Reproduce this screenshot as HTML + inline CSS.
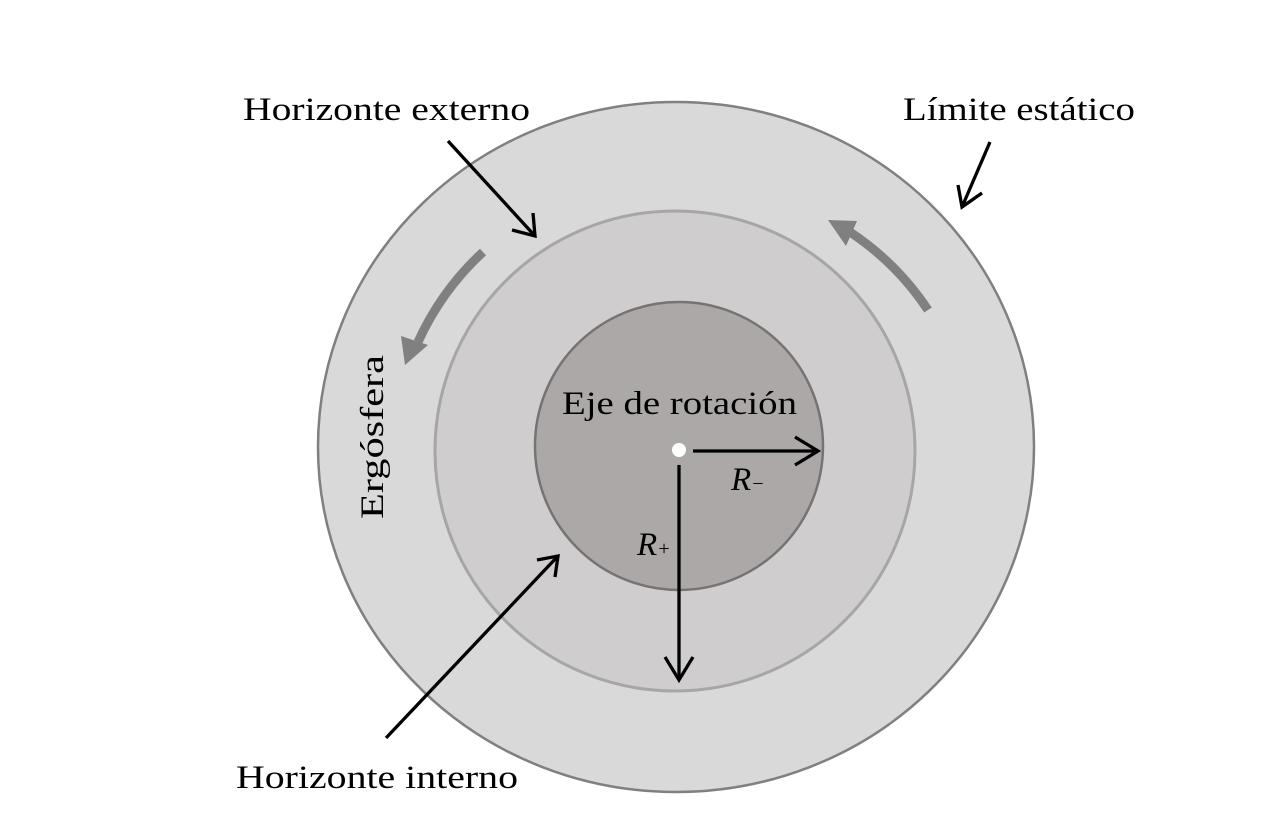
<!DOCTYPE html>
<html><head><meta charset="utf-8"><style>html,body{margin:0;padding:0;background:#fff}</style></head>
<body>
<svg width="1287" height="835" viewBox="0 0 1287 835" xmlns="http://www.w3.org/2000/svg" font-family="'Liberation Serif', serif">
<ellipse cx="676" cy="447" rx="358" ry="345" fill="#d9d9d9" stroke="#808080" stroke-width="2.5"/>
<circle cx="675" cy="451" r="240" fill="#cfcdce" stroke="#a6a6a6" stroke-width="3"/>
<circle cx="679" cy="446" r="144" fill="#aca8a8" stroke="#777373" stroke-width="2.5"/>
<circle cx="679" cy="450" r="7" fill="#fff"/>
<g stroke="#808080" stroke-width="9" fill="none">
<path d="M483,252 A280,280 0 0,0 418,342"/>
<path d="M928,310 A280,280 0 0,0 850,232"/>
</g>
<polygon points="405,365 401,336 428,345" fill="#808080"/>
<polygon points="828,220 857,221 846,246" fill="#808080"/>
<g stroke="#000" stroke-width="3.3" fill="none">
<line x1="448" y1="141" x2="535" y2="236"/><polyline points="512,230 535,236 533,213"/>
<line x1="990" y1="142" x2="962" y2="207"/><polyline points="958,185 962,207 982,193"/>
<line x1="386" y1="738" x2="558" y2="556"/><polyline points="537,560 558,556 555,577"/>
<line x1="693" y1="451" x2="818" y2="451"/><polyline points="795,437 818,451 795,465"/>
<line x1="679" y1="465" x2="679" y2="680"/><polyline points="665,657 679,680 693,657"/>
</g>
<g font-size="33" fill="#000">
<text x="243" y="120" textLength="287" lengthAdjust="spacingAndGlyphs">Horizonte externo</text>
<text x="903" y="120" textLength="232" lengthAdjust="spacingAndGlyphs">Límite estático</text>
<text x="236" y="788" textLength="282" lengthAdjust="spacingAndGlyphs">Horizonte interno</text>
<text x="562" y="414" textLength="235" lengthAdjust="spacingAndGlyphs">Eje de rotación</text>
<text transform="translate(383,519) rotate(-90)" textLength="164" lengthAdjust="spacingAndGlyphs">Ergósfera</text>
<text x="731" y="490" font-style="italic">R<tspan font-size="20">−</tspan></text>
<text x="637" y="555" font-style="italic">R<tspan font-size="20">+</tspan></text>
</g>
</svg>
</body></html>
